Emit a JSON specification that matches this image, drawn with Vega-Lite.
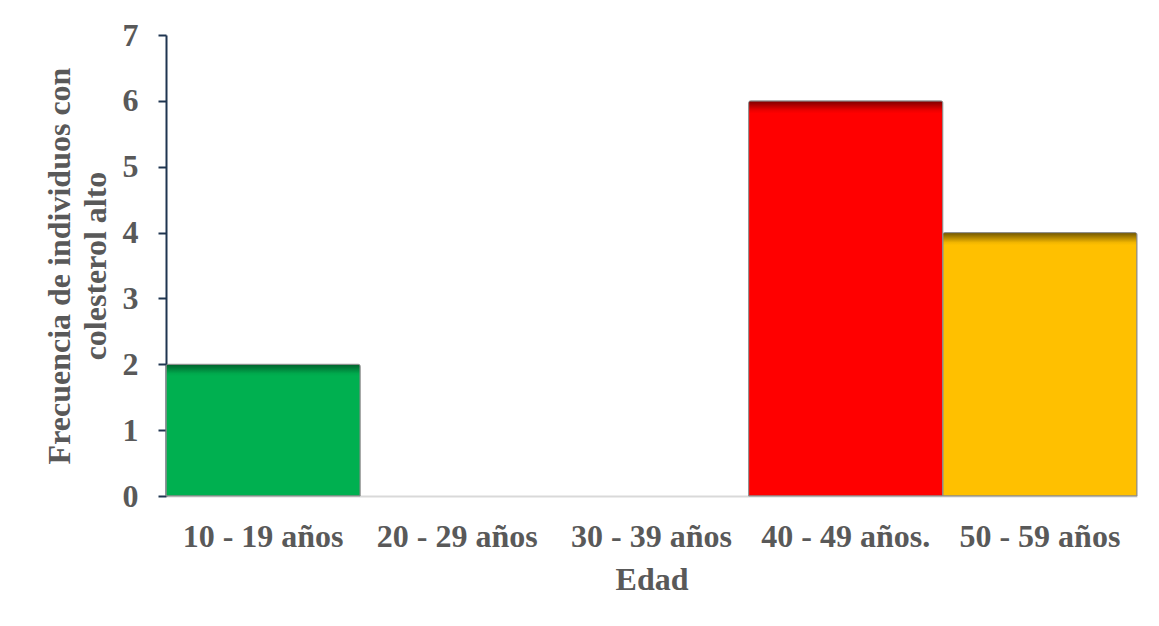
{
  "$schema": "https://vega.github.io/schema/vega-lite/v6.json",
  "width": 971,
  "height": 461,
  "autosize": "none",
  "padding": {"left": 166, "top": 35, "right": 22, "bottom": 130},
  "background": "white",
  "config": {"view": {"stroke": null}, "font": "Liberation Serif"},
  "data": {"values": [
    {"edad": "10 - 19 años", "frecuencia": 2},
    {"edad": "20 - 29 años", "frecuencia": 0},
    {"edad": "30 - 39 años", "frecuencia": 0},
    {"edad": "40 - 49 años.", "frecuencia": 6},
    {"edad": "50 - 59 años", "frecuencia": 4}
  ]},
  "encoding": {
    "x": {
      "field": "edad", "type": "nominal", "sort": null,
      "scale": {"domain": ["10 - 19 años", "20 - 29 años", "30 - 39 años", "40 - 49 años.", "50 - 59 años"], "paddingInner": 0, "paddingOuter": 0},
      "axis": {
        "title": "Edad", "titleFont": "Liberation Serif", "titleFontSize": 32, "titleFontWeight": "bold",
        "titleColor": "#595959", "titlePadding": 12,
        "labelFont": "Liberation Serif", "labelFontSize": 32, "labelFontWeight": "bold", "labelColor": "#595959",
        "labelAngle": 0, "labelPadding": 25, "ticks": false, "labelOverlap": false,
        "domainColor": "#d9d9d9", "domainWidth": 2
      }
    },
    "y": {
      "field": "frecuencia", "type": "quantitative",
      "scale": {"domain": [0, 7], "nice": false},
      "axis": {
        "title": ["Frecuencia de individuos con", "colesterol alto"],
        "titleFont": "Liberation Serif", "titleFontSize": 32, "titleFontWeight": "bold", "titleColor": "#595959",
        "titlePadding": 10, "titleLineHeight": 36,
        "labelFont": "Liberation Serif", "labelFontSize": 32, "labelFontWeight": "bold", "labelColor": "#595959",
        "labelPadding": 20, "values": [0,1,2,3,4,5,6,7], "labelOverlap": false,
        "grid": false, "domainColor": "#1f3550", "domainWidth": 2, "tickColor": "#1f3550", "tickWidth": 2, "tickSize": 8
      }
    }
  },
  "layer": [
    {
      "transform": [{"filter": "datum.edad === '10 - 19 años'"}],
      "mark": {"type": "bar", "stroke": "#8c8c8c", "strokeWidth": 1, "cornerRadiusTopLeft": 2, "cornerRadiusTopRight": 2,
        "fill": {"gradient": "linear", "x1": 0, "y1": 0, "x2": 0, "y2": 1,
          "stops": [{"offset": 0, "color": "#00602c"}, {"offset": 0.07, "color": "#00a84c"}, {"offset": 0.09, "color": "#00B050"}, {"offset": 1, "color": "#00B050"}]}}
    },
    {
      "transform": [{"filter": "datum.edad === '40 - 49 años.'"}],
      "mark": {"type": "bar", "stroke": "#8c8c8c", "strokeWidth": 1, "cornerRadiusTopLeft": 2, "cornerRadiusTopRight": 2,
        "fill": {"gradient": "linear", "x1": 0, "y1": 0, "x2": 0, "y2": 1,
          "stops": [{"offset": 0, "color": "#7a0000"}, {"offset": 0.025, "color": "#f00000"}, {"offset": 0.032, "color": "#FF0000"}, {"offset": 1, "color": "#FF0000"}]}}
    },
    {
      "transform": [{"filter": "datum.edad === '50 - 59 años'"}],
      "mark": {"type": "bar", "stroke": "#8c8c8c", "strokeWidth": 1, "cornerRadiusTopLeft": 2, "cornerRadiusTopRight": 2,
        "fill": {"gradient": "linear", "x1": 0, "y1": 0, "x2": 0, "y2": 1,
          "stops": [{"offset": 0, "color": "#6e5400"}, {"offset": 0.038, "color": "#f2b600"}, {"offset": 0.048, "color": "#FFC000"}, {"offset": 1, "color": "#FFC000"}]}}
    }
  ]
}
